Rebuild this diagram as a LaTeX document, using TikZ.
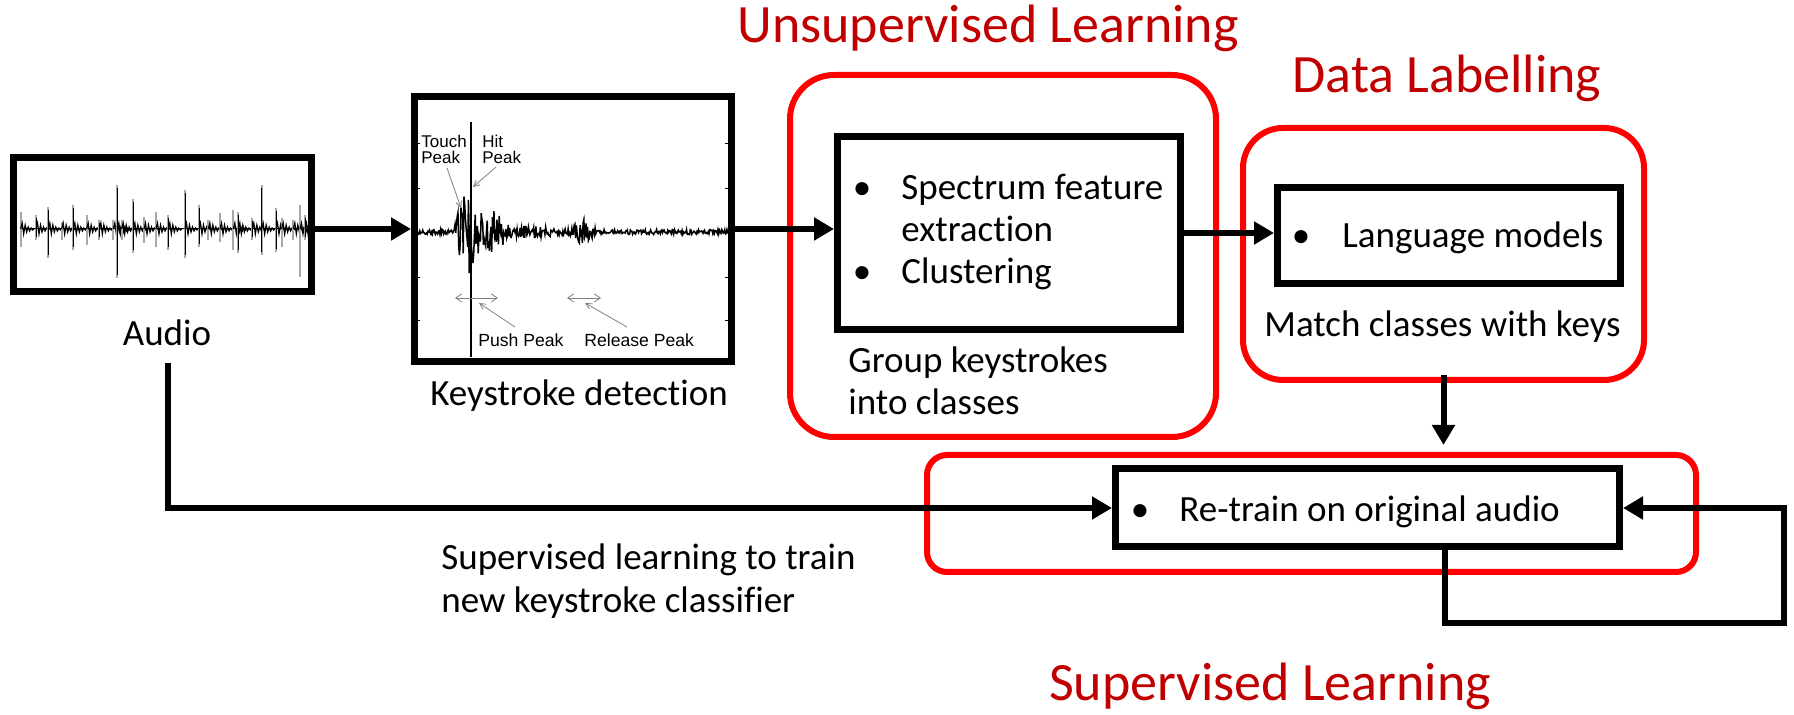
\documentclass[tikz,border=0pt]{standalone}
\usepackage{fontspec}
\setmainfont{Carlito}[Ligatures=NoCommon]
\newfontfamily\arialf{Liberation Sans}
\usetikzlibrary{arrows.meta}
\definecolor{boxred}{HTML}{FF0000}
\definecolor{titlered}{HTML}{C00000}
\definecolor{wavegray}{HTML}{A8A8A8}
\begin{document}
\begin{tikzpicture}[x=0.5pt,y=-0.5pt,
  blackbox/.style={draw=black, line width=3.5pt, inner sep=0pt},
  redbox/.style={draw=boxred, line width=3pt, rounded corners=#1, inner sep=0pt},
  arr/.style={line width=3pt, -{Triangle[length=10pt,width=11pt]}},
  body/.style={font=\fontsize{18.5}{21}\selectfont, inner sep=0pt},
  ttl/.style={font=\fontsize{27}{30}\selectfont, text=titlered, inner sep=0pt},
  small/.style={font=\arialf\fontsize{8.8}{9}\selectfont, inner sep=0pt},
  smalltwo/.style={font=\arialf\fontsize{8.5}{7.9}\selectfont, inner sep=0pt},
  pointer/.style={gray, line width=0.4pt, -{Straight Barb[length=3pt,width=3pt]}},
  dbl/.style={gray, line width=0.4pt, {Straight Barb[length=3pt,width=4pt]}-{Straight Barb[length=3pt,width=4pt]}},
]
\useasboundingbox[fill=white] (0,0) rectangle (1794,715);

% ---------- boxes ----------
\node[blackbox, minimum width=149pt, minimum height=67pt] (audio) at (162.5,224.5) {};
\node[blackbox, minimum width=158.5pt, minimum height=132.5pt] (ks) at (573,229) {};
\node[redbox=22pt, minimum width=213pt, minimum height=181pt] (unsup) at (1003,256) {};
\node[blackbox, minimum width=171.5pt, minimum height=96.5pt] (feat) at (1009,233) {};
\node[redbox=20pt, minimum width=200.5pt, minimum height=126pt] (datal) at (1443.5,254) {};
\node[blackbox, minimum width=171.5pt, minimum height=48pt] (lang) at (1449,235.5) {};
\node[redbox=10pt, minimum width=384.5pt, minimum height=58.5pt] (sup) at (1311.5,513.5) {};
\node[blackbox, minimum width=252pt, minimum height=39pt] (retrain) at (1367.5,508) {};

% ---------- audio waveform ----------
\draw[black, line width=0.5pt] (20,229) -- (306,229);
\foreach \zx/\zt/\zb/\c in {62/215/320/wavegray,108/225/300/black,145/200/355/black,185/245/300/wavegray,
  220/195/330/black,260/225/315/wavegray,298/240/300/black,340/240/300/wavegray,352/135/415/black,
  365/240/300/wavegray,400/178/340/black,432/230/310/wavegray,468/215/320/wavegray,505/225/330/black,
  555/150/355/black,597/195/320/black,625/240/300/wavegray,660/220/305/wavegray,700/210/330/wavegray,
  715/215/340/black,757/235/300/black,785/135/345/black,828/205/335/black,845/235/320/wavegray,
  880/240/300/wavegray,900/195/410/wavegray,915/225/300/black}{
  \draw[wavegray, line width=1.1pt] ({\zx/3},{140+\zt/3}) -- ({\zx/3},{140+\zb/3});
  \draw[\c, line width=0.45pt] ({\zx/3},{140+\zt/3+3}) -- ({\zx/3},{140+\zb/3-3});
  \draw[black, line width=0.6pt] ({\zx/3},229) -- ++(1.5,-6) -- ++(1.5,11) -- ++(1.5,-9) -- ++(1.5,7)
     -- ++(1.5,-5) -- ++(1.5,4) -- ++(1.5,-3) -- ++(1.5,2) -- ++(1.5,-1);
}

% ---------- keystroke waveform ----------
\pgfmathsetseed{7}
\draw[black, line width=0.75pt] plot[domain=416:730, samples=420]
  (\x, {232 + (2.5 + 48*max(0,1-abs(\x-468)/16) + 20*max(0,1-abs(\x-492)/20)
     + 12*max(0,1-abs(\x-582)/16) + 4*max(0,1-abs(\x-530)/40))*rand});
\draw[black, line width=0.8pt] (471,122) -- (471,357);
\foreach \ty in {143,188,277,320}{
  \draw[black, line width=0.4pt] (415,\ty) -- (420,\ty);
  \draw[black, line width=0.4pt] (725,\ty) -- (731,\ty);
}
\node[smalltwo, align=left, anchor=north west] (tch) at (421,135) {Touch\\Peak};
\node[smalltwo, align=left, anchor=north west] (hit) at (482,135) {Hit\\Peak};
\node[small, anchor=base west] (ppk) at (478,347) {Push Peak};
\node[small, anchor=base west] (rpk) at (584,347) {Release Peak};
\coordinate (tpa) at (447,168); \coordinate (tpb) at (461,208);
\coordinate (hpa) at (496,167); \coordinate (hpb) at (473,187);
\coordinate (ppa) at (515,327); \coordinate (ppb) at (479,303);
\coordinate (rpa) at (627,327); \coordinate (rpb) at (585,303);
\draw[pointer] (tpa) -- (tpb);
\draw[pointer] (hpa) -- (hpb);
\draw[pointer] (ppa) -- (ppb);
\draw[pointer] (rpa) -- (rpb);
\coordinate (da1) at (455,298); \coordinate (da2) at (498,298);
\coordinate (db1) at (567,298); \coordinate (db2) at (601,298);
\draw[dbl] (da1) -- (da2);
\draw[dbl] (db1) -- (db2);

% ---------- texts ----------
\node[ttl, anchor=base] (t1) at (988,43) {Unsupervised Learning};
\node[ttl, anchor=base] (t2) at (1447,93) {Data Labelling};
\node[ttl, anchor=base] (t3) at (1270,700) {Supervised Learning};
\node[body, anchor=base] (l1) at (167,346) {Audio};
\node[body, anchor=base] (l2) at (579,406) {Keystroke detection};
\node[body, anchor=base] (bu1) at (862,200) {•};
\node[body, anchor=base west] (s1) at (901,200) {Spectrum feature};
\node[body, anchor=base west] (s2) at (901,242) {extraction};
\node[body, anchor=base] (bu2) at (862,284) {•};
\node[body, anchor=base west] (s3) at (901,284) {Clustering};
\node[body, anchor=base west] (g1) at (848,373) {Group keystrokes};
\node[body, anchor=base west] (g2) at (848,415) {into classes};
\node[body, anchor=base] (bu3) at (1301,248) {•};
\node[body, anchor=base west] (lm) at (1342,248) {Language models};
\node[body, anchor=base west] (mc) at (1264,337) {Match classes with keys};
\node[body, anchor=base] (bu4) at (1140,522) {•};
\node[body, anchor=base west] (rt) at (1179,522) {Re-train on original audio};
\node[body, anchor=base west] (sl1) at (441,570) {Supervised learning to train};
\node[body, anchor=base west] (sl2) at (441,613) {new keystroke classifier};

% ---------- connectors ----------
\draw[arr] (audio.east |- ks.west) -- (ks.west);
\draw[arr] (ks.east) -- (ks.east -| feat.west);
\draw[arr] (feat.east) -- (feat.east -| lang.west);
\draw[arr] ([yshift=4pt]datal.south) -- ([yshift=3.5pt]datal.south |- sup.north);
\coordinate (astart) at (168,363);
\draw[arr] (astart) -- (astart |- retrain.west) -- (retrain.west);
\coordinate (lpa) at (1445,623);
\coordinate (lpb) at (1784,623);
\draw[arr] (retrain.south -| lpa) -- (lpa) -- (lpb) -- (lpb |- retrain.east) -- (retrain.east);
\end{tikzpicture}
\end{document}
